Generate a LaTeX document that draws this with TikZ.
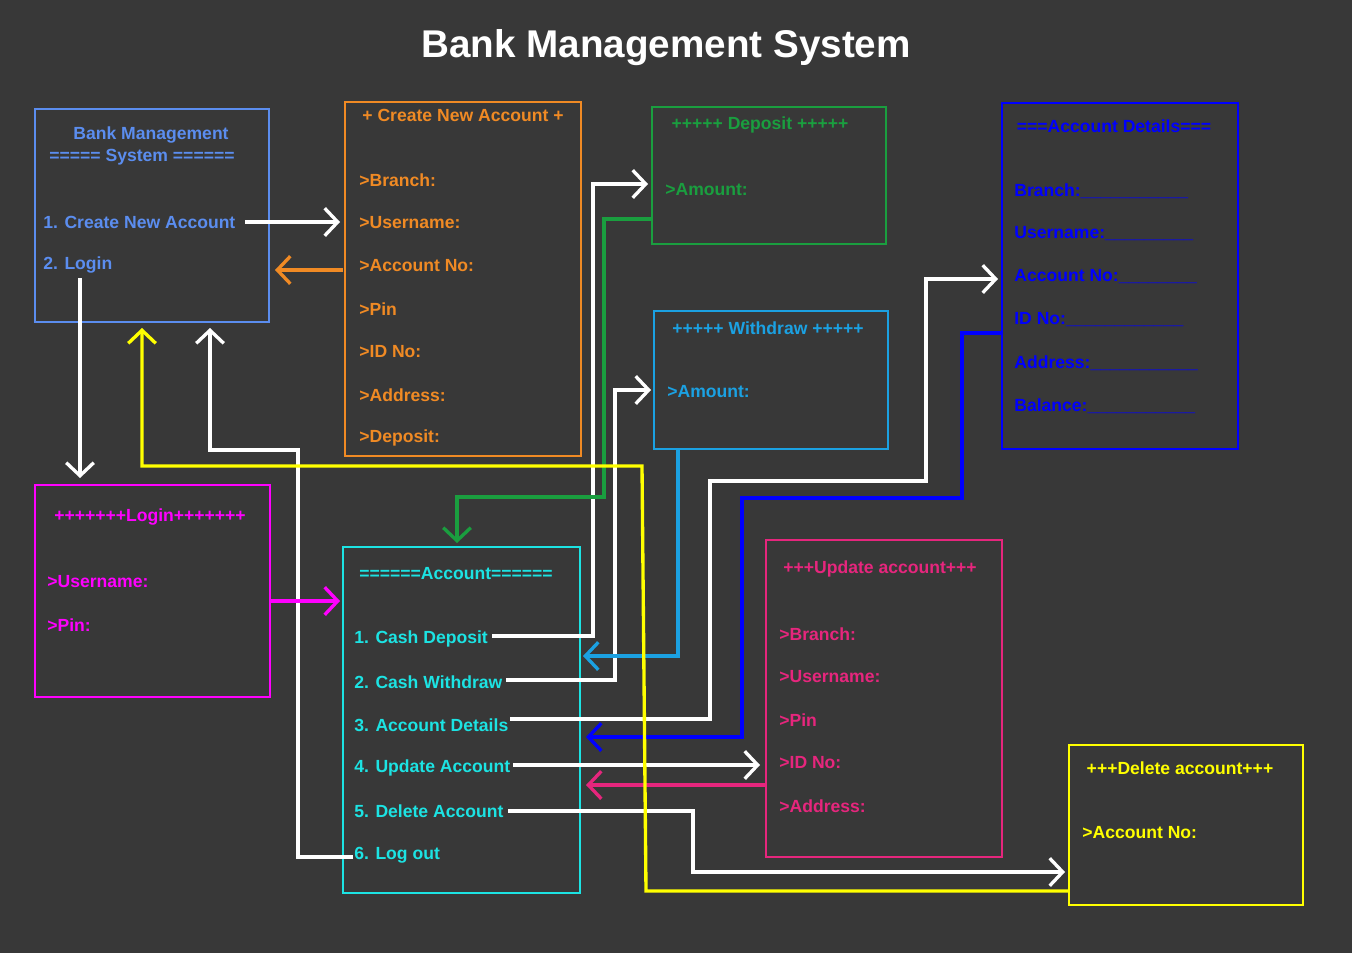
\documentclass[tikz,border=0pt]{standalone}
\usepackage{fontspec}
\setmainfont{Liberation Sans}
\usetikzlibrary{arrows.meta}
\definecolor{bg}{HTML}{383838}
\definecolor{cbms}{HTML}{5B8DEF}
\definecolor{cor}{HTML}{F08A24}
\definecolor{cgr}{HTML}{1A9E3F}
\definecolor{cbl}{HTML}{0000FF}
\definecolor{cwd}{HTML}{1BA1E2}
\definecolor{cmg}{HTML}{FF00FF}
\definecolor{ccy}{HTML}{1CE3E3}
\definecolor{cpk}{HTML}{E6267D}
\definecolor{cyl}{HTML}{FFFF00}
\begin{document}
\begin{tikzpicture}[x=0.02cm,y=-0.02cm,
 box/.style={draw=#1,line width=0.9pt},
 t/.style={text=#1,anchor=west,font=\fontsize{10}{12}\selectfont\bfseries,inner sep=0},
 tt/.style={text=#1,font=\fontsize{10}{12}\selectfont\bfseries,inner sep=0},
 con/.style={draw=#1,line width=1.9pt,-{Straight Barb[length=2.6mm,width=5.5mm,line width=1.9pt]}}]
\fill[bg] (0,0) rectangle (1352,953);
\node[text=white,font=\fontsize{22}{26}\selectfont\bfseries] (title) at (666,48) {Bank Management System};
% boxes
\draw[box=cbms] (35,109) rectangle (269,322);
\draw[box=cor] (345,102) rectangle (581,456);
\draw[box=cgr] (652,107) rectangle (886,244);
\draw[box=cbl] (1002,103) rectangle (1238,449);
\draw[box=cwd] (654,311) rectangle (888,449);
\draw[box=cmg] (35,485) rectangle (270,697);
\draw[box=ccy] (343,547) rectangle (580,893);
\draw[box=cpk] (766,540) rectangle (1002,857);
\draw[box=cyl] (1069,745) rectangle (1303,905);
% BMS
\node[tt=cbms] (b1) at (151,135) {Bank Management};
\node[tt=cbms] (b2) at (142,157) {===== System ======};
\node[t=cbms] (b3) at (43,222) {1. Create New Account};
\node[t=cbms] (b4) at (43,265) {2. Login};
% create
\node[tt=cor] (c0) at (463,115) {+ Create New Account +};
\foreach \s/\y [count=\i] in {>Branch:/180,>Username:/223,>Account No:/266,>Pin/309,>ID No:/352,>Address:/395,>Deposit:/438}
  \node[t=cor] (c\i) at (359,\y) {\s};
% deposit
\node[tt=cgr] (d0) at (760,125) {+++++ Deposit +++++};
\node[t=cgr] (d1) at (665,190) {>Amount:};
% account details
\node[tt=cbl] (a0) at (1114,126) {===Account Details===};
\foreach \s/\y [count=\i] in {Branch:\_\_\_\_\_\_\_\_\_\_\_/191,Username:\_\_\_\_\_\_\_\_\_/234,Account No:\_\_\_\_\_\_\_\_/277,ID No:\_\_\_\_\_\_\_\_\_\_\_\_/320,Address:\_\_\_\_\_\_\_\_\_\_\_/363,Balance:\_\_\_\_\_\_\_\_\_\_\_/406}
  \node[t=cbl] (a\i) at (1014,\y) {\s};
% withdraw
\node[tt=cwd] (w0) at (768,328) {+++++ Withdraw +++++};
\node[t=cwd] (w1) at (667,392) {>Amount:};
% login
\node[tt=cmg] (l0) at (150,517) {+++++++Login+++++++};
\node[t=cmg] (l1) at (47,582) {>Username:};
\node[t=cmg] (l2) at (47,625) {>Pin:};
% account
\node[tt=ccy] (m0) at (456,574) {======Account======};
\foreach \s/\y [count=\i] in {1. Cash Deposit/639,2. Cash Withdraw/682,3. Account Details/725,4. Update Account/768,5. Delete Account/811,6. Log out/855}
  \node[t=ccy] (m\i) at (354,\y) {\s};
% update
\node[tt=cpk] (u0) at (880,569) {+++Update account+++};
\foreach \s/\y [count=\i] in {>Branch:/634,>Username:/677,>Pin/720,>ID No:/763,>Address:/806}
  \node[t=cpk] (u\i) at (779,\y) {\s};
% delete
\node[tt=cyl] (x0) at (1180,768) {+++Delete account+++};
\node[t=cyl] (x1) at (1082,833) {>Account No:};
% connectors
\draw[con=white] (245,222) -- (340,222);
\draw[con=white] (80,278) -- (80,478);
\draw[con=white] (353,857) -- (298,857) -- (298,450) -- (210,450) -- (210,328);
\draw[con=white] (492,636) -- (593,636) -- (593,184) -- (648,184);
\draw[con=white] (506,680) -- (615,680) -- (615,390) -- (651,390);
\draw[con=white] (510,719) -- (710,719) -- (710,481) -- (926,481) -- (926,279) -- (998,279);
\draw[con=white] (513,765) -- (760,765);
\draw[con=white] (508,811) -- (693,811) -- (693,872) -- (1065,872);
\draw[con=cor] (343,270) -- (275,270);
\draw[con=cgr] (652,219) -- (604,219) -- (604,497) -- (457,497) -- (457,543);
\draw[con=cwd] (678,449) -- (678,656) -- (583,656);
\draw[con=cbl] (1002,333) -- (962,333) -- (962,498) -- (742,498) -- (742,737) -- (586,737);
\draw[con=cpk] (766,785) -- (586,785);
\draw[con=cmg] (271,601) -- (340,601);
\draw[con=cyl] (1069,891) -- (646,891) -- (642,466) -- (142,466) -- (142,328);
\end{tikzpicture}
\end{document}
